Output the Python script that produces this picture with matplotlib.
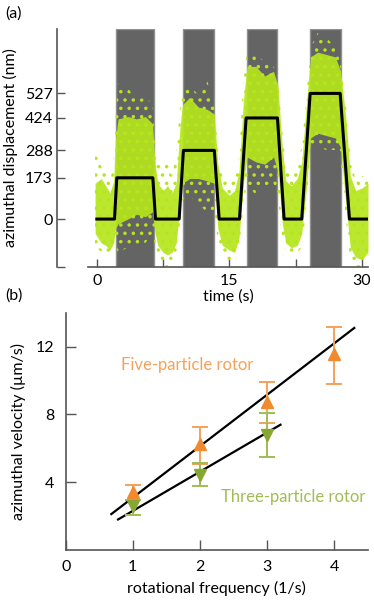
import matplotlib
matplotlib.use("Agg")
from matplotlib import pyplot as plt
import numpy as np

plt.rcParams['font.family'] = ['Lato', 'DejaVu Sans']
plt.rcParams['font.size'] = 11.5
plt.rcParams['hatch.linewidth'] = 1.3

# panel (a): gray bands where the field is on (s)
band_start = [2.2, 9.75, 17.0, 24.15]
band_end = [6.45, 13.3, 20.45, 27.6]

# black trajectory
traj_t = [0.0, 2.0, 2.26, 6.34, 6.64, 9.32, 9.8, 13.3, 13.85, 16.15, 16.9,
          20.45, 21.2, 23.2, 24.15, 27.55, 28.6, 30.65]
traj_y = [0, 0, 173, 173, 0, 0, 288, 288, 0, 0, 424, 424, 0, 0, 527, 527, 0, 0]

# green cloud of measured points: dense core and sparse outer envelope (nm)
cloud_t = [-0.2, 0.5, 1.0, 1.5, 1.9, 2.1, 2.4, 3.5, 4.5, 5.5, 6.3, 6.6, 6.9,
           7.5, 8.0, 8.5, 9.0, 9.4, 9.7, 10.5, 11.5, 12.5, 13.3, 13.7, 14.2,
           15.0, 15.6, 16.1, 16.6, 17.0, 18.0, 19.0, 20.0, 20.5, 21.0, 21.4,
           22.0, 22.7, 23.2, 23.7, 24.2, 25.0, 26.0, 27.0, 27.6, 28.2, 28.7,
           29.3, 30.0, 30.7]
core_lo = [-60, -100, -110, -130, -100, -40, -20, 0, 20, 10, 30, -60, -110,
           -140, -150, -140, -100, 60, 150, 170, 170, 160, 150, -40, -110,
           -130, -140, -80, 150, 260, 240, 230, 260, 200, -20, -100,
           -120, -110, -60, 120, 340, 360, 350, 340, 300, 60, -120,
           -160, -170, -140]
core_hi = [150, 170, 140, 110, 160, 330, 420, 430, 420, 430, 400, 230, 150,
           120, 140, 110, 150, 380, 480, 510, 470, 460, 440, 230, 130,
           100, 120, 200, 500, 640, 640, 600, 620, 560, 300, 160,
           140, 170, 240, 470, 680, 700, 690, 680, 620, 420, 180,
           120, 130, 150]
out_lo = [-110, -140, -150, -160, -140, -110, -140, -120, -110, -100, -60, -110, -150,
          -190, -200, -170, -150, -20, 80, 100, 60, 30, 40, -100, -160,
          -190, -180, -130, 60, 150, 100, 140, 150, 100, -100, -140,
          -160, -140, -120, 40, 300, 300, 290, 290, 250, 0, -180,
          -210, -200, -180]
out_hi = [290, 220, 200, 160, 230, 430, 570, 550, 500, 510, 480, 300, 260,
          220, 250, 180, 280, 460, 530, 560, 520, 580, 470, 300, 180,
          150, 170, 260, 600, 700, 690, 660, 640, 600, 370, 220,
          200, 250, 300, 500, 720, 780, 760, 720, 660, 480, 260,
          160, 180, 180]

# panel (b): azimuthal velocity vs rotational frequency
freq5 = [1, 2, 3, 4]
vel5 = [3.45, 6.24, 8.76, 11.57]
vel5_lo = [2.94, 5.1, 7.49, 9.8]
vel5_hi = [3.86, 7.25, 9.9, 13.18]
freq3 = [1, 2, 3]
vel3 = [2.59, 4.41, 6.76]
vel3_lo = [2.06, 3.78, 5.49]
vel3_hi = [2.95, 5.16, 8.08]
fit5_x = [0.68, 4.3]
fit5_y = [2.12, 13.1]
fit3_x = [0.78, 3.2]
fit3_y = [1.8, 7.39]

green = '#b5e61d'
orange = '#f08a2e'
orange_bar = '#f4a25a'
olive = '#86a833'
olive_bar = '#a0bd55'
spine_col = '#555555'

fig = plt.figure(figsize=(3.74, 6.05), dpi=100)

#---- panel (a)
ax1 = fig.add_axes([88/374, 1-267/605, 280/374, 238/605])
for s, e in zip(band_start, band_end):
    ax1.axvspan(s, e, facecolor='#646464', edgecolor='#909090', lw=1.0, zorder=1)
# sparse outliers as a dotted hatch, dense part as solid fill
ax1.fill_between(cloud_t, out_lo, out_hi, facecolor='none', edgecolor=green,
                 hatch='..', lw=0, zorder=2)
ax1.fill_between(cloud_t, core_lo, core_hi, color=green, alpha=0.92, lw=0, zorder=3)
ax1.plot(traj_t, traj_y, color='black', lw=2.2, zorder=4)

ax1.set_xlim(-1, 30.7)
ax1.set_ylim(-201, 797)
ax1.set_xticks([0, 15, 30])
ax1.set_xticks([7.5, 22.5], minor=True)
ax1.set_yticks([0, 173, 288, 424, 527])
ax1.set_yticks([-201], minor=True)
ax1.spines['top'].set_visible(False)
ax1.spines['right'].set_visible(False)
ax1.spines['left'].set_position(('outward', 22))
for sp in ['left', 'bottom']:
    ax1.spines[sp].set_color(spine_col)
    ax1.spines[sp].set_linewidth(1.2)
ax1.tick_params(which='both', direction='in', length=6, width=1, color=spine_col)
ax1.tick_params(axis='x', pad=5)
ax1.set_xlabel('time (s)', labelpad=1)
ax1.set_ylabel('azimuthal displacement (nm)', labelpad=5)

#---- panel (b)
ax2 = fig.add_axes([65.7/374, 1-550/605, 302/374, 237.3/605])
ax2.plot(fit5_x, fit5_y, color='black', lw=1.6, zorder=2)
ax2.plot(fit3_x, fit3_y, color='black', lw=1.6, zorder=2)
ax2.errorbar(freq5, vel5,
             yerr=[np.subtract(vel5, vel5_lo), np.subtract(vel5_hi, vel5)],
             fmt='^', color=orange, ecolor=orange_bar, ms=9, capsize=6,
             elinewidth=1.4, capthick=1.4, zorder=3)
ax2.errorbar(freq3, vel3,
             yerr=[np.subtract(vel3, vel3_lo), np.subtract(vel3_hi, vel3)],
             fmt='v', color=olive, ecolor=olive_bar, ms=9, capsize=6,
             elinewidth=1.4, capthick=1.4, zorder=3)
ax2.text(0.83, 10.9, 'Five-particle rotor', color=orange_bar, fontsize=12,
         va='center', ha='left')
ax2.text(2.31, 3.14, 'Three-particle rotor', color=olive_bar, fontsize=12,
         va='center', ha='left')

ax2.set_xlim(0, 4.5)
ax2.set_ylim(0, 14)
ax2.set_xticks([0, 1, 2, 3, 4])
ax2.set_yticks([4, 8, 12])
ax2.spines['top'].set_visible(False)
ax2.spines['right'].set_visible(False)
for sp in ['left', 'bottom']:
    ax2.spines[sp].set_color(spine_col)
    ax2.spines[sp].set_linewidth(1.2)
ax2.tick_params(which='both', direction='in', length=7, width=1, color=spine_col)
ax2.tick_params(axis='x', pad=7)
ax2.tick_params(axis='y', pad=8)
ax2.set_xlabel('rotational frequency (1/s)', labelpad=5)
ax2.set_ylabel('azimuthal velocity (\u00b5m/s)', labelpad=7)

fig.text(5/374, 1-14/605, '(a)', va='center', ha='left')
fig.text(5/374, 1-296/605, '(b)', va='center', ha='left')

fig.savefig('out.png', dpi=100)
